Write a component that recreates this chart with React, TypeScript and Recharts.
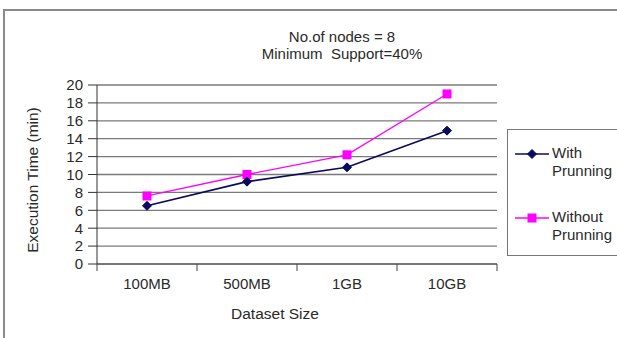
import React from "react";
import { LineChart, Line, XAxis, YAxis, CartesianGrid } from "recharts";

// Dataset sizes on the x axis
const categories = ["100MB", "500MB", "1GB", "10GB"];
// Execution time in minutes
const withPruning = [6.5, 9.2, 10.8, 14.9];
const withoutPruning = [7.6, 10.0, 12.2, 19.0];
const yTicks = [0, 2, 4, 6, 8, 10, 12, 14, 16, 18, 20];

const seriesNames = ["With Prunning", "Without Prunning"];
const NAVY = "#0a0a5c";
const MAGENTA = "#ff00ff";
const FONT = "'Liberation Sans', Arial, sans-serif";
const TEXT = "#2a2a2a";
const HALF_BAND = 50;

const data = categories.map((c, i) => ({
  name: c,
  with: withPruning[i],
  without: withoutPruning[i],
}));

const Diamond = (props: any) => {
  const { cx, cy, fill } = props;
  if (cx == null || cy == null) return null;
  const r = 4.5;
  return (
    <path
      d={`M${cx},${cy - r}L${cx + r},${cy}L${cx},${cy + r}L${cx - r},${cy}Z`}
      fill={fill}
      stroke={fill}
    />
  );
};

const Square = (props: any) => {
  const { cx, cy, fill } = props;
  if (cx == null || cy == null) return null;
  const s = 9;
  return <rect x={cx - s / 2} y={cy - s / 2} width={s} height={s} fill={fill} />;
};

// Category label centred between band edges, tick marks on the edges
const XTick = (props: any) => {
  const { x, payload, index } = props;
  const base = 264;
  const last = index === categories.length - 1;
  return (
    <g>
      <line
        x1={x - HALF_BAND}
        y1={base}
        x2={x - HALF_BAND}
        y2={base + 7}
        stroke="#444"
      />
      {last && (
        <line
          x1={x + HALF_BAND}
          y1={base}
          x2={x + HALF_BAND}
          y2={base + 7}
          stroke="#444"
        />
      )}
      <text
        x={x}
        y={base + 19}
        textAnchor="middle"
        dominantBaseline="central"
        fontFamily={FONT}
        fontSize={15}
        fill={TEXT}
      >
        {payload.value}
      </text>
    </g>
  );
};

const LegendBox = () => (
  <div
    style={{
      position: "absolute",
      left: 507,
      top: 129,
      width: 130,
      height: 127,
      border: "1.5px solid #777",
      background: "#fff",
      boxSizing: "border-box",
      fontFamily: FONT,
      fontSize: 15,
      color: TEXT,
    }}
  >
    {[0, 1].map((i) => (
      <div
        key={i}
        style={{ position: "absolute", left: 7, top: i === 0 ? 14 : 78 }}
      >
        <svg
          width={36}
          height={20}
          style={{ position: "absolute", left: 0, top: 0 }}
        >
          <line
            x1={0}
            y1={10}
            x2={34}
            y2={10}
            stroke={i === 0 ? NAVY : MAGENTA}
            strokeWidth={1.5}
          />
          {i === 0 ? (
            <Diamond cx={17} cy={10} fill={NAVY} />
          ) : (
            <Square cx={17} cy={10} fill={MAGENTA} />
          )}
        </svg>
        <div
          style={{ position: "absolute", left: 37, top: 0, lineHeight: "18px" }}
        >
          {seriesNames[i].split(" ").map((w) => (
            <div key={w}>{w}</div>
          ))}
        </div>
      </div>
    ))}
  </div>
);

export default function App() {
  return (
    <div
      style={{
        position: "absolute",
        left: 0,
        top: 0,
        width: 617,
        height: 338,
        overflow: "hidden",
        background: "#fff",
        fontFamily: FONT,
      }}
    >
      {/* chart frame */}
      <div
        style={{
          position: "absolute",
          left: 3,
          top: 9,
          width: 800,
          height: 500,
          borderLeft: "2px solid #8a8a8a",
          borderTop: "2px solid #8a8a8a",
        }}
      />
      <LineChart
        width={617}
        height={338}
        data={data}
        margin={{ top: 85, right: 120, bottom: 0, left: 0 }}
        style={{ position: "absolute", left: 0, top: 0 }}
      >
        <CartesianGrid
          vertical={false}
          stroke="#7a7a7a"
          strokeWidth={1.3}
          yAxisId="l"
        />
        <XAxis
          dataKey="name"
          height={74}
          padding={{ left: HALF_BAND, right: HALF_BAND }}
          axisLine={{ stroke: "#555" }}
          tickLine={false}
          tick={<XTick />}
          interval={0}
        />
        <YAxis
          yAxisId="l"
          width={97}
          domain={[0, 20]}
          ticks={yTicks}
          interval={0}
          tickSize={9}
          tickMargin={5}
          axisLine={{ stroke: "#333" }}
          tickLine={{ stroke: "#333" }}
          tick={{ fontFamily: FONT, fontSize: 15, fill: TEXT }}
        />
        <YAxis
          yAxisId="r"
          orientation="right"
          width={0}
          domain={[0, 20]}
          tick={false}
          tickLine={false}
          axisLine={{ stroke: "#7a7a7a", strokeWidth: 1.3 }}
        />
        <Line
          yAxisId="l"
          dataKey="without"
          name={seriesNames[1]}
          stroke={MAGENTA}
          strokeWidth={1.3}
          dot={<Square fill={MAGENTA} />}
          isAnimationActive={false}
        />
        <Line
          yAxisId="l"
          dataKey="with"
          name={seriesNames[0]}
          stroke={NAVY}
          strokeWidth={1.6}
          dot={<Diamond fill={NAVY} />}
          isAnimationActive={false}
        />
      </LineChart>
      <LegendBox />
      {/* chart title */}
      <div
        style={{
          position: "absolute",
          left: 242,
          width: 200,
          top: 28,
          textAlign: "center",
          fontSize: 15,
          lineHeight: "17px",
          color: TEXT,
        }}
      >
        <div>No.of nodes = 8</div>
        <div style={{ whiteSpace: "pre" }}>Minimum  Support=40%</div>
      </div>
      {/* axis titles */}
      <div
        style={{
          position: "absolute",
          left: 175,
          width: 200,
          top: 305,
          textAlign: "center",
          fontSize: 15.5,
          color: TEXT,
        }}
      >
        Dataset Size
      </div>
      <div
        style={{
          position: "absolute",
          left: 33,
          top: 180,
          transform: "translate(-50%, -50%) rotate(-90deg)",
          whiteSpace: "nowrap",
          fontSize: 15.5,
          color: TEXT,
        }}
      >
        Execution Time (min)
      </div>
    </div>
  );
}
